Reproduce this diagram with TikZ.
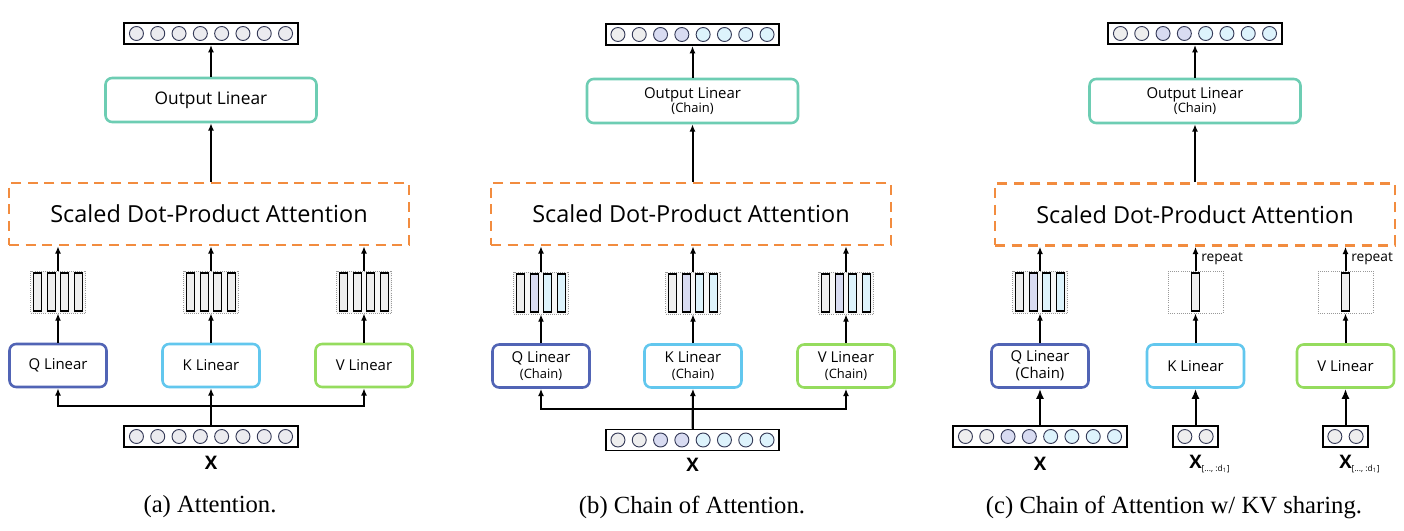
\documentclass[tikz,border=0pt]{standalone}
\usepackage{fontspec}
\setmainfont{Liberation Serif}
\setsansfont{Open Sans}
\usetikzlibrary{arrows.meta,calc}
\definecolor{orangec}{HTML}{F28C3F}
\definecolor{tealc}{HTML}{6DCDB3}
\definecolor{qcol}{HTML}{5164B5}
\definecolor{kcol}{HTML}{62C7EE}
\definecolor{vcol}{HTML}{95DC5E}
\definecolor{circb}{HTML}{363B58}
\definecolor{cg}{HTML}{EBEBEF}
\definecolor{cgr}{HTML}{EEEEEE}
\definecolor{clav}{HTML}{D8DBF1}
\definecolor{ccy}{HTML}{DDF3FC}
\tikzset{
 arr/.style={line width=1.5pt, -{Latex[length=5.5pt,width=4.5pt]}},
 bigarr/.style={line width=1.5pt, -{Latex[length=7.5pt,width=6pt]}},
 vecbox/.style={draw=black, line width=1.4pt, fill=white, minimum height=15.75pt, inner sep=0pt},
 circ/.style={circle, draw=circb, line width=0.7pt, minimum size=10.5pt, inner sep=0pt},
 lin/.style={draw, rounded corners=5pt, line width=1.9pt, minimum width=72.75pt, minimum height=32.25pt, align=center, inner sep=0pt, font=\sffamily\fontsize{11.2}{14}\selectfont},
 outbox/.style={draw=tealc, rounded corners=5pt, line width=1.9pt, minimum width=158.25pt, minimum height=33pt, align=center, inner sep=0pt},
 sdpa/.style={draw=orangec, dash pattern=on 7.5pt off 5pt, line width=1.9pt, minimum width=300pt, minimum height=46.5pt, inner sep=0pt, font=\sffamily\fontsize{17.6}{20}\selectfont},
 stackbox/.style={draw=gray!80, densely dotted, line width=0.6pt, fill=gray!6, minimum width=41.25pt, minimum height=31.5pt, inner sep=0pt},
 barbox/.style={draw=black, line width=0.8pt, minimum width=6pt, minimum height=28.5pt, inner sep=0pt},
 xlbl/.style={font=\sffamily\bfseries\fontsize{14}{16}\selectfont, inner sep=0pt},
 caplbl/.style={font=\rmfamily\fontsize{18.5}{22}\selectfont, inner sep=0pt},
 replbl/.style={font=\sffamily\fontsize{10.3}{12}\selectfont, inner sep=0pt, anchor=west},
}
\newcommand\vecrow[5]{%
  \node[vecbox, minimum width={(#4*21.3+3)*0.75pt}] (#1) at (#2,#3) {};
  \foreach \cc [count=\ii] in {#5} {
    \node[circ, fill=\cc] (#1-\ii) at ({#2+(\ii-(#4+1)/2)*21.3},#3) {};
  }%
}
\newcommand\stackv[4]{%
  \node[stackbox] (#1) at (#2,#3) {};
  \foreach \cc [count=\ii] in {#4} {
    \node[barbox, fill=\cc] (#1-\ii) at ({#2+(\ii-2.5)*13.8},#3) {};
  }%
}
\newcommand\chainsmall{\fontsize{9.7}{11}\selectfont}
\newcommand\subx{\rlap{\raisebox{-2pt}{\mdseries\fontsize{6.3}{7}\selectfont[..., :d\textsubscript{1}]}}}
\begin{document}
\begin{tikzpicture}[x=0.75pt,y=-0.75pt]
\useasboundingbox[fill=white] (0,0) rectangle (1404,531);
% ---------------- panel (a)
\vecrow{oa}{211}{33.5}{8}{cg,cg,cg,cg,cg,cg,cg,cg}
\node[outbox, font=\sffamily\fontsize{13}{15}\selectfont] (outa) at (211,100) {Output Linear};
\node[sdpa] (sa) at (209,214) {Scaled Dot-Product Attention};
\stackv{qsa}{58}{292}{cgr,cgr,cgr,cgr}
\stackv{ksa}{211}{292}{cgr,cgr,cgr,cgr}
\stackv{vsa}{364}{292}{cgr,cgr,cgr,cgr}
\node[lin, draw=qcol] (qa) at (58,365.5) {Q Linear};
\node[lin, draw=kcol] (ka) at (211,365.5) {K Linear};
\node[lin, draw=vcol] (va) at (364,365.5) {V Linear};
\vecrow{xa}{211}{436.5}{8}{cg,cg,cg,cg,cg,cg,cg,cg}
\node[xlbl] (xla) at (211,463) {X};
\node[caplbl] (capa) at (210,507) {(a) Attention.};
\coordinate (spa) at (211,406);
\draw[arr] (outa.north) -- (oa.south);
\draw[arr] (outa.south |- sa.north) -- (outa.south);
\foreach \s in {qsa,ksa,vsa} \draw[arr] (\s.north) -- (\s.north |- sa.south);
\draw[arr] (qa.north) -- (qsa.south);
\draw[arr] (ka.north) -- (ksa.south);
\draw[arr] (va.north) -- (vsa.south);
\draw[arr] (xa.north) -- (ka.south);
\draw[arr] (xa.north) -- (spa) -| (qa.south);
\draw[arr] (xa.north) -- (spa) -| (va.south);
% ---------------- panel (b)
\vecrow{ob}{692.5}{34.5}{8}{cgr,cgr,clav,clav,ccy,ccy,ccy,ccy}
\node[outbox, font=\sffamily\fontsize{11.2}{13}\selectfont] (outb) at (692.5,101) {Output Linear\\[-2pt]{\chainsmall (Chain)}};
\node[sdpa] (sb) at (691,214) {Scaled Dot-Product Attention};
\stackv{qsb}{541}{293}{cgr,clav,ccy,ccy}
\stackv{ksb}{693}{293}{cgr,clav,ccy,ccy}
\stackv{vsb}{846}{293}{cgr,clav,ccy,ccy}
\node[lin, draw=qcol] (qb) at (541,366) {Q Linear\\[-2pt]{\chainsmall (Chain)}};
\node[lin, draw=kcol] (kb) at (693,366) {K Linear\\[-2pt]{\chainsmall (Chain)}};
\node[lin, draw=vcol] (vb) at (846,366) {V Linear\\[-2pt]{\chainsmall (Chain)}};
\vecrow{xb}{692.5}{440}{8}{cgr,cgr,clav,clav,ccy,ccy,ccy,ccy}
\node[xlbl] (xlb) at (692.5,465) {X};
\node[caplbl] (capb) at (692,507) {(b) Chain of Attention.};
\coordinate (spb) at (692.5,409);
\draw[arr] (outb.north) -- (ob.south);
\draw[arr] (outb.south |- sb.north) -- (outb.south);
\foreach \s in {qsb,ksb,vsb} \draw[arr] (\s.north) -- (\s.north |- sb.south);
\draw[arr] (qb.north) -- (qsb.south);
\draw[arr] (kb.north) -- (ksb.south);
\draw[arr] (vb.north) -- (vsb.south);
\draw[arr] (xb.north) -- (kb.south);
\draw[arr] (xb.north) -- (spb) -| (qb.south);
\draw[arr] (xb.north) -- (spb) -| (vb.south);
% ---------------- panel (c)
\vecrow{oc}{1195}{33.5}{8}{cgr,cgr,clav,clav,ccy,ccy,ccy,ccy}
\node[outbox, font=\sffamily\fontsize{11.2}{13}\selectfont] (outc) at (1195,101) {Output Linear\\[-2pt]{\chainsmall (Chain)}};
\node[sdpa] (sc) at (1195,214.5) {Scaled Dot-Product Attention};
\stackv{qsc}{1040}{292}{cgr,clav,ccy,ccy}
\node[stackbox, fill=white] (ksc) at (1195.5,292) {};
\node[barbox, fill=cgr] (ksc-1) at (1195.5,292) {};
\node[stackbox, fill=white] (vsc) at (1345.5,292) {};
\node[barbox, fill=cgr] (vsc-1) at (1345.5,292) {};
\node[lin, draw=qcol] (qc) at (1040,366) {Q Linear\\[-1pt](Chain)};
\node[lin, draw=kcol] (kc) at (1195.5,366) {K Linear};
\node[lin, draw=vcol] (vc) at (1345.5,366) {V Linear};
\vecrow{xc}{1040}{436.5}{8}{cgr,cgr,clav,clav,ccy,ccy,ccy,ccy}
\vecrow{xkc}{1195.5}{436.5}{2}{cgr,cgr}
\vecrow{xvc}{1345.5}{436.5}{2}{cgr,cgr}
\node[xlbl] (xlc) at (1040,464) {X};
\node[xlbl] (xlk) at (1195.5,464) {X\subx};
\node[xlbl] (xlv) at (1345.5,464) {X\subx};
\node[caplbl] (capc) at (1174,507) {(c) Chain of Attention w/ KV sharing.};
\node[replbl] (rk) at (1201,259) {repeat};
\node[replbl] (rv) at (1351,259) {repeat};
\draw[arr] (outc.north) -- (oc.south);
\draw[arr] (outc.south |- sc.north) -- (outc.south);
\foreach \s in {qsc,ksc,vsc} \draw[arr] (\s.north) -- (\s.north |- sc.south);
\draw[arr] (qc.north) -- (qsc.south);
\draw[arr] (kc.north) -- (ksc.south);
\draw[arr] (vc.north) -- (vsc.south);
\draw[bigarr] (xc.north) -- (qc.south);
\draw[bigarr] (xkc.north) -- (kc.south);
\draw[bigarr] (xvc.north) -- (vc.south);
\end{tikzpicture}
\end{document}
